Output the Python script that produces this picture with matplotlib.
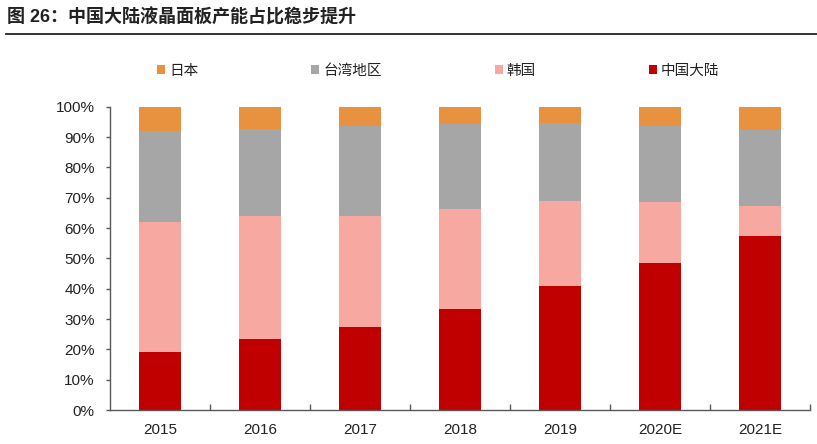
import matplotlib
matplotlib.use("Agg")
import matplotlib.pyplot as plt
from matplotlib.lines import Line2D
from matplotlib.ticker import FixedLocator, PercentFormatter
import numpy as np

plt.rcParams['font.family'] = ['Liberation Sans', 'Noto Sans CJK SC', 'DejaVu Sans']

categories = ['2015', '2016', '2017', '2018', '2019', '2020E', '2021E']
# shares in %
mainland = [19.1, 23.4, 27.3, 33.4, 40.8, 48.4, 57.5]
korea = [42.9, 40.4, 36.7, 32.8, 28.1, 20.3, 9.6]
taiwan = [30.1, 28.9, 29.8, 28.2, 25.8, 25.0, 25.1]
japan = [7.9, 7.3, 6.2, 5.6, 5.3, 6.3, 7.8]

series_names = ['中国大陆', '韩国', '台湾地区', '日本']
colors = ['#C00000', '#F6A8A1', '#A6A6A6', '#E8913F']
title = '图 26：中国大陆液晶面板产能占比稳步提升'

W, H = 817, 444
fig = plt.figure(figsize=(W / 100, H / 100), dpi=100)
ax = fig.add_axes([110 / W, 1 - 410 / H, 700 / W, (410 - 106.7) / H])

x = np.arange(len(categories))
bottom = np.zeros(len(categories))
handles = []
for name, vals, c in zip(series_names, [mainland, korea, taiwan, japan], colors):
    vals = np.array(vals)
    b = ax.bar(x, vals, 0.42, bottom=bottom, color=c, label=name, linewidth=0)
    handles.append(b)
    bottom += vals

ax.set_xlim(-0.5, len(categories) - 0.5)
ax.set_ylim(0, 100)
ax.yaxis.set_major_locator(FixedLocator(np.arange(0, 101, 10)))
ax.yaxis.set_major_formatter(PercentFormatter(decimals=0))
ax.set_xticks(x)
ax.set_xticklabels(categories)
ax.xaxis.set_minor_locator(FixedLocator(np.arange(0.5, len(categories), 1)))

for s in ['top', 'right']:
    ax.spines[s].set_visible(False)
for s in ['left', 'bottom']:
    ax.spines[s].set_color('#595959')
    ax.spines[s].set_linewidth(1.0)

ax.tick_params(axis='x', which='major', length=0, pad=9, labelsize=11, labelcolor='#222222')
ax.tick_params(axis='x', which='minor', direction='in', length=4, color='#595959', width=1)
ax.tick_params(axis='y', which='major', direction='out', length=3, color='#595959', width=1,
               pad=8, labelsize=11, labelcolor='#222222')

leg = ax.legend(handles[::-1], series_names[::-1], ncol=4, loc='center left',
                bbox_to_anchor=(157 / W, 1 - 71 / H), bbox_transform=fig.transFigure,
                frameon=False, fontsize=10.5, handlelength=0.55, handleheight=0.55,
                handletextpad=0.27, columnspacing=7.75, borderpad=0, borderaxespad=0)
for t in leg.get_texts():
    t.set_color('#222222')

fig.text(7 / W, 1 - 17 / H, title, fontsize=13, fontweight='bold', color='#222222',
         va='center', ha='left')
fig.add_artist(Line2D([6 / W, 1], [1 - 33.5 / H, 1 - 33.5 / H], color='#222222',
                      linewidth=1.3, transform=fig.transFigure))

fig.savefig('out.png', dpi=100)
